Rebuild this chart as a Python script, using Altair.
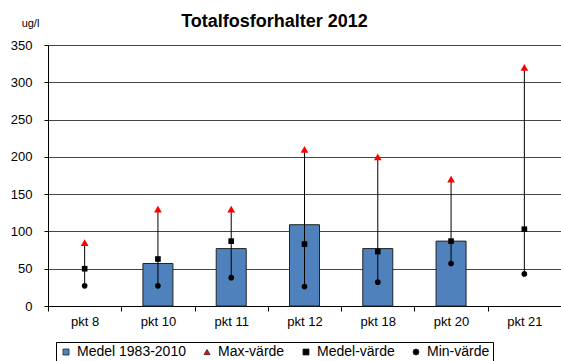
import altair as alt
import pandas as pd

pkts = ["pkt 8", "pkt 10", "pkt 11", "pkt 12", "pkt 18", "pkt 20", "pkt 21"]
hist_vals = [None, 57, 77, 109, 77, 87, None]
max_vals = [85, 130, 130, 210, 200, 170, 320]
medel_vals = [50, 63, 87, 83, 73, 87, 103]
min_vals = [27, 27, 38, 26, 32, 57, 43]

series_names = ["Medel 1983-2010", "Max-värde", "Medel-värde", "Min-värde"]
series_colors = ["#4F81BD", "#FF0000", "#000000", "#000000"]
series_shapes = ["square", "triangle-up", "square", "circle"]

bar_df = pd.DataFrame({"pkt": pkts, "value": hist_vals, "series": series_names[0]}).dropna()
range_df = pd.DataFrame({"pkt": pkts, "lo": min_vals, "hi": max_vals})
pts_df = pd.concat([
    pd.DataFrame({"pkt": pkts, "value": max_vals, "series": series_names[1]}),
    pd.DataFrame({"pkt": pkts, "value": medel_vals, "series": series_names[2]}),
    pd.DataFrame({"pkt": pkts, "value": min_vals, "series": series_names[3]}),
])

FONT = "Liberation Sans"

x_axis = alt.Axis(labelAngle=0, tickBand="extent", tickSize=5, labelPadding=4,
                  labelFontSize=13, labelColor="#000", domainColor="#000",
                  tickColor="#000", grid=False)
x_scale = alt.Scale(paddingInner=0, paddingOuter=0)
y_scale = alt.Scale(domain=[0, 350], nice=False)
y_axis = alt.Axis(values=[0, 50, 100, 150, 200, 250, 300, 350], tickSize=4, labelPadding=12,
                  labelFontSize=13, labelColor="#000", domainColor="#000", tickColor="#000",
                  gridColor="#444", title="ug/l", titleAngle=0, titleFontSize=11,
                  titleFontWeight="normal", titleX=-18, titleY=-17, titleAlign="center",
                  titleBaseline="bottom", labelOverlap=False)

color_scale = alt.Scale(domain=series_names, range=series_colors)
shape_scale = alt.Scale(domain=series_names, range=series_shapes)
legend = alt.Legend(title=None, orient="none", legendX=8, legendY=297, direction="horizontal",
                    strokeColor="#000", fillColor="#fff", padding=3, labelFontSize=14,
                    labelColor="#000", symbolSize=36, columnPadding=14, labelOffset=4,
                    symbolStrokeWidth=0.8)

def X():
    return alt.X("pkt:N", sort=pkts, title=None, scale=x_scale, axis=x_axis)

bars = alt.Chart(bar_df).mark_bar(size=30, stroke="#222", strokeWidth=1).encode(
    x=X(),
    y=alt.Y("value:Q", scale=y_scale, axis=y_axis),
    color=alt.Color("series:N", scale=color_scale, legend=legend),
)

rules = alt.Chart(range_df).mark_rule(color="#000", strokeWidth=1).encode(
    x=X(),
    y=alt.Y("lo:Q", scale=y_scale, axis=y_axis),
    y2="hi:Q",
)

pts = alt.Chart(pts_df).mark_point(filled=True, opacity=1).encode(
    x=X(),
    y=alt.Y("value:Q", scale=y_scale, axis=y_axis),
    color=alt.Color("series:N", scale=color_scale, legend=legend),
    shape=alt.Shape("series:N", scale=shape_scale, legend=legend),
    size=alt.condition(alt.datum.series == "Max-värde", alt.value(60), alt.value(32)),
)

chart = alt.layer(bars, rules, pts).properties(
    width=513, height=261,
    title=alt.Title("Totalfosforhalter 2012", fontSize=18, font=FONT, fontWeight="bold",
                    color="#000", anchor="middle", dx=-30, offset=-14),
    autosize=alt.AutoSizeParams(type="none"),
    padding={"left": 48, "top": 45, "right": 0, "bottom": 55},
).configure(font=FONT).configure_view(stroke=None)

chart.save("out.html", embed_options={"renderer": "svg", "actions": False})
